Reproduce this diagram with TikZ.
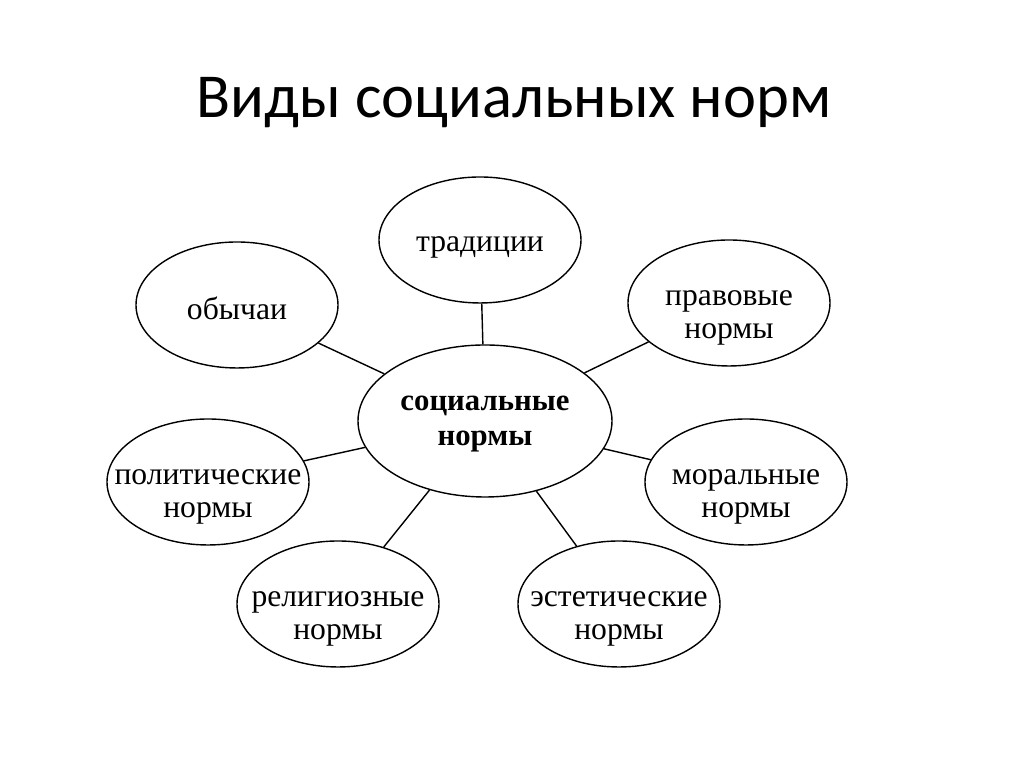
\documentclass[tikz,border=0pt]{standalone}
\usepackage{fontspec}
\setmainfont{Liberation Serif}
\newfontfamily\zagfont{Carlito}
\usetikzlibrary{shapes.geometric}
\begin{document}
\begin{tikzpicture}[
		norma/.style={draw, ellipse, thick, minimum width=4.04cm, minimum height=2.52cm, inner xsep=-1cm, inner ysep=0pt, text height=1.54cm, align=center, font=\fontsize{18}{18.5}\selectfont},
		odna/.style={norma, text height=0.6cm},
		glavn/.style={norma, minimum width=5.08cm, minimum height=3.04cm, text height=1.1cm, font=\fontsize{17.5}{20}\selectfont\bfseries}]
		\useasboundingbox (0,0) rectangle (20.48,15.34);
		% Заголовок
		\node[draw=none, anchor=base, font=\zagfont\fontsize{35.6}{38}\selectfont] (zag) at (10.28,12.98) {Виды социальных норм};
		
		% Центр
		\node[glavn] (soc) at (9.70,6.92) {социальные\\нормы};
		
		% Виды норм
		\node[odna] (trad) at (9.60,10.54) {традиции};
		\node[odna] (obych) at (4.74,9.24) {обычаи};
		\node[norma] (prav) at (14.58,9.28) {правовые\\нормы};
		\node[norma] (polit) at (4.16,5.70) {политические\\нормы};
		\node[norma] (moral) at (14.92,5.70) {моральные\\нормы};
		\node[norma] (relig) at (6.76,3.26) {религиозные\\нормы};
		\node[norma] (estet) at (12.38,3.26) {эстетические\\нормы};
		
		\draw[thick] (soc) -- (trad);
		\draw[thick] (soc) -- (obych);
		\draw[thick] (soc) -- (prav);
		\draw[thick] (soc) -- (polit);
		\draw[thick] (soc) -- (moral);
		\draw[thick] (soc) -- (relig);
		\draw[thick] (soc) -- (estet);
	\end{tikzpicture}
\end{document}
